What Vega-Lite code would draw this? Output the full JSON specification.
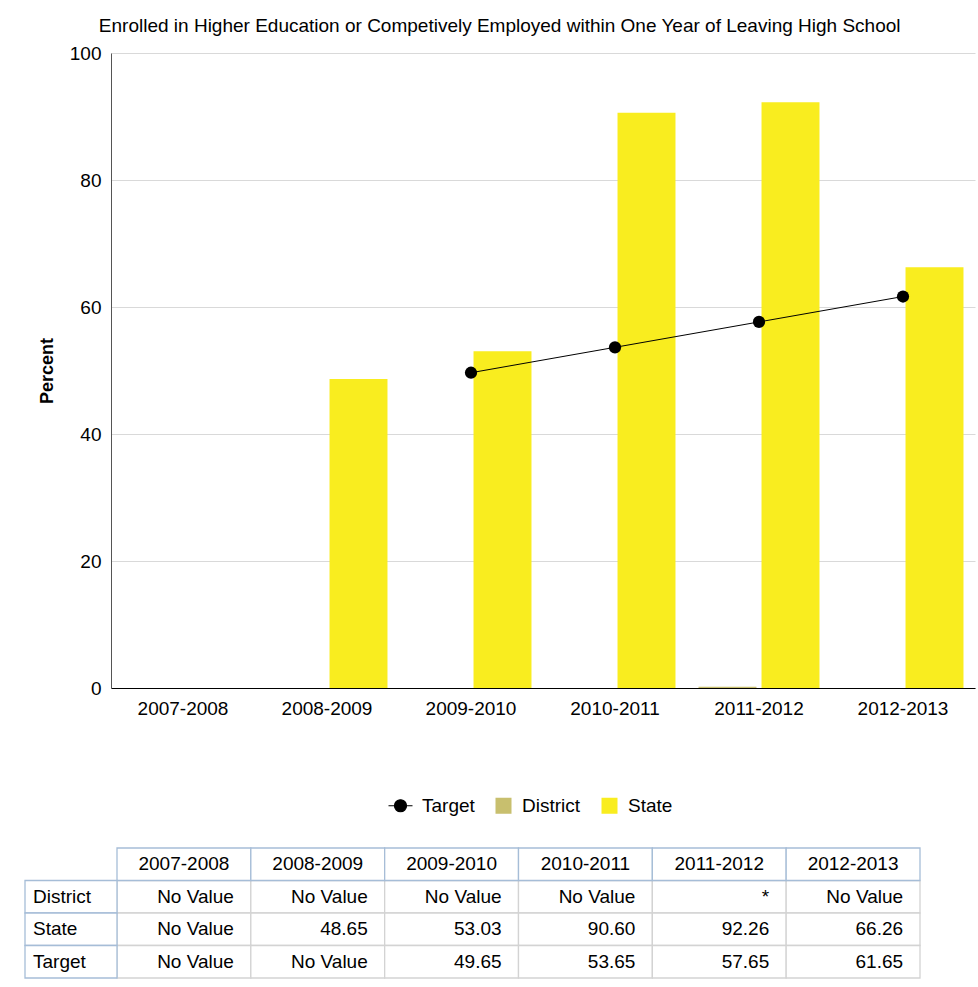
{
  "$schema": "https://vega.github.io/schema/vega-lite/v6.json",
  "padding": {"left": 24, "top": 17, "right": 3, "bottom": 5},
  "config": {"font": "Liberation Sans", "view": {"stroke": null}},
  "title": {"text": "Enrolled in Higher Education or Competively Employed within One Year of Leaving High School", "fontSize": 19, "fontWeight": "normal", "color": "#000000", "anchor": "middle", "offset": 8},
  "datasets": {
    "bars": [
      {"year": "2008-2009", "series": "State", "value": 48.65},
      {"year": "2009-2010", "series": "State", "value": 53.03},
      {"year": "2010-2011", "series": "State", "value": 90.60},
      {"year": "2011-2012", "series": "District", "value": 0.2},
      {"year": "2011-2012", "series": "State", "value": 92.26},
      {"year": "2012-2013", "series": "State", "value": 66.26}
    ],
    "target": [
      {"year": "2009-2010", "value": 49.65},
      {"year": "2010-2011", "value": 53.65},
      {"year": "2011-2012", "value": 57.65},
      {"year": "2012-2013", "value": 61.65}
    ],
    "headers": [
      {"row": "header", "year": "2007-2008"},
      {"row": "header", "year": "2008-2009"},
      {"row": "header", "year": "2009-2010"},
      {"row": "header", "year": "2010-2011"},
      {"row": "header", "year": "2011-2012"},
      {"row": "header", "year": "2012-2013"}
    ],
    "rowlabels": [
      {"row": "District"},
      {"row": "State"},
      {"row": "Target"}
    ],
    "cells": [
      {"row": "District", "year": "2007-2008", "text": "No Value"},
      {"row": "District", "year": "2008-2009", "text": "No Value"},
      {"row": "District", "year": "2009-2010", "text": "No Value"},
      {"row": "District", "year": "2010-2011", "text": "No Value"},
      {"row": "District", "year": "2011-2012", "text": "*"},
      {"row": "District", "year": "2012-2013", "text": "No Value"},
      {"row": "State", "year": "2007-2008", "text": "No Value"},
      {"row": "State", "year": "2008-2009", "text": "48.65"},
      {"row": "State", "year": "2009-2010", "text": "53.03"},
      {"row": "State", "year": "2010-2011", "text": "90.60"},
      {"row": "State", "year": "2011-2012", "text": "92.26"},
      {"row": "State", "year": "2012-2013", "text": "66.26"},
      {"row": "Target", "year": "2007-2008", "text": "No Value"},
      {"row": "Target", "year": "2008-2009", "text": "No Value"},
      {"row": "Target", "year": "2009-2010", "text": "49.65"},
      {"row": "Target", "year": "2010-2011", "text": "53.65"},
      {"row": "Target", "year": "2011-2012", "text": "57.65"},
      {"row": "Target", "year": "2012-2013", "text": "61.65"}
    ]
  },
  "bounds": "flush",
  "spacing": 160,
  "resolve": {"legend": {"color": "independent"}},
  "vconcat": [
    {
      "width": 864,
      "height": 635,
      "encoding": {
        "x": {"field": "year", "type": "nominal", "sort": null,
          "scale": {"domain": ["2007-2008", "2008-2009", "2009-2010", "2010-2011", "2011-2012", "2012-2013"], "paddingInner": 0.16, "paddingOuter": 0.08},
          "axis": {"title": null, "labelAngle": 0, "labelFontSize": 19, "labelColor": "#000000", "labelPadding": 11, "ticks": false, "domainColor": "#000000", "grid": false}},
        "y": {"field": "value", "type": "quantitative",
          "scale": {"domain": [0, 100]},
          "axis": {"title": "Percent", "titleFontSize": 18, "titleFontWeight": "bold", "titleColor": "#000000", "titlePadding": 13, "labelFontSize": 19, "labelColor": "#000000", "labelPadding": 10, "ticks": false, "domainColor": "#555555", "gridColor": "#d9d9d9", "values": [0, 20, 40, 60, 80, 100]}}
      },
      "layer": [
        {
          "data": {"name": "bars"},
          "mark": {"type": "bar"},
          "encoding": {
            "xOffset": {"field": "series", "type": "nominal", "scale": {"domain": ["District", "State"], "paddingInner": 0.08}},
            "color": {"field": "series", "type": "nominal",
              "scale": {"domain": ["Target", "District", "State"], "range": ["#000000", "#c8bf6e", "#f9ed1f"]},
              "legend": {"title": null, "orient": "none", "legendX": 280, "legendY": 743, "direction": "horizontal",
                "labelFontSize": 19, "labelColor": "#000000", "symbolSize": 576, "columnPadding": 16, "labelOffset": 12,
                "values": ["Target", "District", "State"],
                "encode": {"symbols": {"update": {
                  "shape": {"signal": "datum.value === 'Target' ? 'M-1,0L1,0M0.5,0A0.5,0.5,0,1,1,-0.5,0A0.5,0.5,0,1,1,0.5,0Z' : 'M-0.417,-0.667H0.917V0.667H-0.417Z'"},
                  "size": {"value": 576},
                  "fill": {"signal": "datum.value === 'Target' ? '#000000' : (datum.value === 'District' ? '#c8bf6e' : '#f9ed1f')"},
                  "stroke": {"signal": "datum.value === 'Target' ? '#000000' : 'transparent'"},
                  "strokeWidth": {"signal": "datum.value === 'Target' ? 1.2 : 0"},
                  "opacity": {"value": 1}
                }}}}
            }
          }
        },
        {
          "data": {"name": "target"},
          "mark": {"type": "line", "strokeWidth": 1},
          "encoding": {"color": {"datum": "Target", "type": "nominal"}}
        },
        {
          "data": {"name": "target"},
          "mark": {"type": "point", "filled": true, "size": 150, "opacity": 1},
          "encoding": {"color": {"datum": "Target", "type": "nominal"}}
        }
      ]
    },
    {
      "width": 864,
      "height": 130,
      "resolve": {"scale": {"x": "independent"}},
      "encoding": {
        "y": {"field": "row", "type": "nominal", "sort": null,
          "scale": {"domain": ["header", "District", "State", "Target"], "paddingInner": 0, "paddingOuter": 0},
          "axis": null}
      },
      "layer": [
        {
          "data": {"name": "cells"},
          "mark": {"type": "rect", "fill": "#ffffff", "stroke": "#d3d3d3", "strokeWidth": 1.3},
          "encoding": {"x": {"field": "year", "type": "nominal", "sort": null, "axis": null,
            "scale": {"domain": ["2007-2008", "2008-2009", "2009-2010", "2010-2011", "2011-2012", "2012-2013"], "range": [6, 809], "paddingInner": 0, "paddingOuter": 0}}}
        },
        {
          "data": {"name": "headers"},
          "mark": {"type": "rect", "fill": "#ffffff", "stroke": "#a6bdd7", "strokeWidth": 1.3},
          "encoding": {"x": {"field": "year", "type": "nominal", "sort": null, "axis": null,
            "scale": {"domain": ["2007-2008", "2008-2009", "2009-2010", "2010-2011", "2011-2012", "2012-2013"], "range": [6, 809], "paddingInner": 0, "paddingOuter": 0}}}
        },
        {
          "data": {"name": "rowlabels"},
          "mark": {"type": "rect", "fill": "#ffffff", "stroke": "#a6bdd7", "strokeWidth": 1.3},
          "encoding": {"x": {"datum": "Rows", "type": "nominal", "axis": null,
            "scale": {"domain": ["Rows"], "range": [-86, 6], "paddingInner": 0, "paddingOuter": 0}}}
        },
        {
          "data": {"name": "headers"},
          "mark": {"type": "text", "fontSize": 19, "color": "#000000", "align": "center"},
          "encoding": {"x": {"field": "year", "type": "nominal", "sort": null, "axis": null,
            "scale": {"domain": ["2007-2008", "2008-2009", "2009-2010", "2010-2011", "2011-2012", "2012-2013"], "range": [6, 809], "paddingInner": 0, "paddingOuter": 0}},
            "text": {"field": "year"}}
        },
        {
          "data": {"name": "cells"},
          "mark": {"type": "text", "fontSize": 19, "color": "#000000", "align": "right", "dx": 50},
          "encoding": {"x": {"field": "year", "type": "nominal", "sort": null, "axis": null,
            "scale": {"domain": ["2007-2008", "2008-2009", "2009-2010", "2010-2011", "2011-2012", "2012-2013"], "range": [6, 809], "paddingInner": 0, "paddingOuter": 0}},
            "text": {"field": "text"}}
        },
        {
          "data": {"name": "rowlabels"},
          "mark": {"type": "text", "fontSize": 19, "color": "#000000", "align": "left", "dx": -38},
          "encoding": {"x": {"datum": "Rows", "type": "nominal", "axis": null,
            "scale": {"domain": ["Rows"], "range": [-86, 6], "paddingInner": 0, "paddingOuter": 0}},
            "text": {"field": "row"}}
        }
      ]
    }
  ]
}
